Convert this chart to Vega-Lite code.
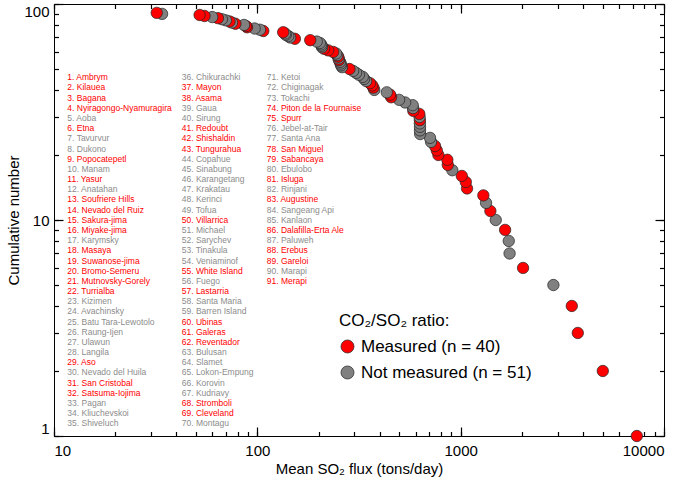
{
  "$schema": "https://vega.github.io/schema/vega-lite/v6.json",
  "width": 610,
  "height": 432,
  "autosize": {"type": "none"},
  "padding": {"left": 54, "top": 4, "right": 21, "bottom": 42},
  "config": {
    "font": "Liberation Sans",
    "view": {"stroke": "#000", "strokeWidth": 1},
    "axis": {
      "domain": false,
      "grid": false,
      "labelFont": "Liberation Sans",
      "labelFontSize": 15,
      "labelColor": "#000",
      "titleFont": "Liberation Sans",
      "titleFontSize": 15,
      "titleFontWeight": "normal",
      "titleColor": "#000",
      "tickColor": "#000",
      "tickWidth": 1.2,
      "labelOverlap": false
    }
  },
  "datasets": {
    "volcanoes": [
      {"rank": 1, "name": "Ambrym", "flux": 7350, "co2": "Measured"},
      {"rank": 2, "name": "Kilauea", "flux": 5000, "co2": "Measured"},
      {"rank": 3, "name": "Bagana", "flux": 3767, "co2": "Measured"},
      {"rank": 4, "name": "Nyiragongo-Nyamuragira", "flux": 3520, "co2": "Measured"},
      {"rank": 5, "name": "Aoba", "flux": 2858, "co2": "Not measured"},
      {"rank": 6, "name": "Etna", "flux": 2027, "co2": "Measured"},
      {"rank": 7, "name": "Tavurvur", "flux": 1740, "co2": "Not measured"},
      {"rank": 8, "name": "Dukono", "flux": 1724, "co2": "Not measured"},
      {"rank": 9, "name": "Popocatepetl", "flux": 1654, "co2": "Measured"},
      {"rank": 10, "name": "Manam", "flux": 1488, "co2": "Not measured"},
      {"rank": 11, "name": "Yasur", "flux": 1400, "co2": "Measured"},
      {"rank": 12, "name": "Anatahan", "flux": 1333, "co2": "Not measured"},
      {"rank": 13, "name": "Soufriere Hills", "flux": 1293, "co2": "Measured"},
      {"rank": 14, "name": "Nevado del Ruiz", "flux": 1075, "co2": "Measured"},
      {"rank": 15, "name": "Sakura-jima", "flux": 1060, "co2": "Measured"},
      {"rank": 16, "name": "Miyake-jima", "flux": 1013, "co2": "Measured"},
      {"rank": 17, "name": "Karymsky", "flux": 910, "co2": "Not measured"},
      {"rank": 18, "name": "Masaya", "flux": 864, "co2": "Measured"},
      {"rank": 19, "name": "Suwanose-jima", "flux": 860, "co2": "Measured"},
      {"rank": 20, "name": "Bromo-Semeru", "flux": 777, "co2": "Measured"},
      {"rank": 21, "name": "Mutnovsky-Gorely", "flux": 763, "co2": "Measured"},
      {"rank": 22, "name": "Turrialba", "flux": 748, "co2": "Measured"},
      {"rank": 23, "name": "Kizimen", "flux": 715, "co2": "Not measured"},
      {"rank": 24, "name": "Avachinsky", "flux": 707, "co2": "Not measured"},
      {"rank": 25, "name": "Batu Tara-Lewotolo", "flux": 632, "co2": "Not measured"},
      {"rank": 26, "name": "Raung-Ijen", "flux": 631, "co2": "Not measured"},
      {"rank": 27, "name": "Ulawun", "flux": 631, "co2": "Not measured"},
      {"rank": 28, "name": "Langila", "flux": 630, "co2": "Not measured"},
      {"rank": 29, "name": "Aso", "flux": 630, "co2": "Measured"},
      {"rank": 30, "name": "Nevado del Huila", "flux": 628, "co2": "Not measured"},
      {"rank": 31, "name": "San Cristobal", "flux": 626, "co2": "Measured"},
      {"rank": 32, "name": "Satsuma-Iojima", "flux": 585, "co2": "Measured"},
      {"rank": 33, "name": "Pagan", "flux": 583, "co2": "Not measured"},
      {"rank": 34, "name": "Kliuchevskoi", "flux": 581, "co2": "Not measured"},
      {"rank": 35, "name": "Shiveluch", "flux": 533, "co2": "Not measured"},
      {"rank": 36, "name": "Chikurachki", "flux": 498, "co2": "Not measured"},
      {"rank": 37, "name": "Mayon", "flux": 455, "co2": "Measured"},
      {"rank": 38, "name": "Asama", "flux": 450, "co2": "Measured"},
      {"rank": 39, "name": "Gaua", "flux": 433, "co2": "Not measured"},
      {"rank": 40, "name": "Sirung", "flux": 376, "co2": "Not measured"},
      {"rank": 41, "name": "Redoubt", "flux": 372, "co2": "Measured"},
      {"rank": 42, "name": "Shishaldin", "flux": 367, "co2": "Measured"},
      {"rank": 43, "name": "Tungurahua", "flux": 358, "co2": "Measured"},
      {"rank": 44, "name": "Copahue", "flux": 343, "co2": "Not measured"},
      {"rank": 45, "name": "Sinabung", "flux": 335, "co2": "Not measured"},
      {"rank": 46, "name": "Karangetang", "flux": 330, "co2": "Not measured"},
      {"rank": 47, "name": "Krakatau", "flux": 316, "co2": "Not measured"},
      {"rank": 48, "name": "Kerinci", "flux": 306, "co2": "Not measured"},
      {"rank": 49, "name": "Tofua", "flux": 296, "co2": "Not measured"},
      {"rank": 50, "name": "Villarrica", "flux": 284, "co2": "Measured"},
      {"rank": 51, "name": "Michael", "flux": 261, "co2": "Not measured"},
      {"rank": 52, "name": "Sarychev", "flux": 258, "co2": "Not measured"},
      {"rank": 53, "name": "Tinakula", "flux": 257, "co2": "Not measured"},
      {"rank": 54, "name": "Veniaminof", "flux": 255, "co2": "Not measured"},
      {"rank": 55, "name": "White Island", "flux": 252, "co2": "Measured"},
      {"rank": 56, "name": "Fuego", "flux": 251, "co2": "Not measured"},
      {"rank": 57, "name": "Lastarria", "flux": 250, "co2": "Measured"},
      {"rank": 58, "name": "Santa Maria", "flux": 247, "co2": "Not measured"},
      {"rank": 59, "name": "Barren Island", "flux": 244, "co2": "Not measured"},
      {"rank": 60, "name": "Ubinas", "flux": 236, "co2": "Measured"},
      {"rank": 61, "name": "Galeras", "flux": 223, "co2": "Measured"},
      {"rank": 62, "name": "Reventador", "flux": 213, "co2": "Measured"},
      {"rank": 63, "name": "Bulusan", "flux": 208, "co2": "Not measured"},
      {"rank": 64, "name": "Slamet", "flux": 207, "co2": "Not measured"},
      {"rank": 65, "name": "Lokon-Empung", "flux": 206, "co2": "Not measured"},
      {"rank": 66, "name": "Korovin", "flux": 203, "co2": "Not measured"},
      {"rank": 67, "name": "Kudriavy", "flux": 196, "co2": "Not measured"},
      {"rank": 68, "name": "Stromboli", "flux": 182, "co2": "Measured"},
      {"rank": 69, "name": "Cleveland", "flux": 153, "co2": "Measured"},
      {"rank": 70, "name": "Montagu", "flux": 145, "co2": "Not measured"},
      {"rank": 71, "name": "Ketoi", "flux": 142, "co2": "Not measured"},
      {"rank": 72, "name": "Chiginagak", "flux": 138, "co2": "Not measured"},
      {"rank": 73, "name": "Tokachi", "flux": 137, "co2": "Not measured"},
      {"rank": 74, "name": "Piton de la Fournaise", "flux": 134, "co2": "Measured"},
      {"rank": 75, "name": "Spurr", "flux": 107, "co2": "Measured"},
      {"rank": 76, "name": "Jebel-at-Tair", "flux": 103, "co2": "Not measured"},
      {"rank": 77, "name": "Santa Ana", "flux": 97, "co2": "Not measured"},
      {"rank": 78, "name": "San Miguel", "flux": 89, "co2": "Measured"},
      {"rank": 79, "name": "Sabancaya", "flux": 88, "co2": "Measured"},
      {"rank": 80, "name": "Ebulobo", "flux": 86, "co2": "Not measured"},
      {"rank": 81, "name": "Isluga", "flux": 78, "co2": "Measured"},
      {"rank": 82, "name": "Rinjani", "flux": 75, "co2": "Not measured"},
      {"rank": 83, "name": "Augustine", "flux": 73, "co2": "Measured"},
      {"rank": 84, "name": "Sangeang Api", "flux": 70, "co2": "Not measured"},
      {"rank": 85, "name": "Kanlaon", "flux": 67, "co2": "Not measured"},
      {"rank": 86, "name": "Dalafilla-Erta Ale", "flux": 64, "co2": "Measured"},
      {"rank": 87, "name": "Paluweh", "flux": 60, "co2": "Not measured"},
      {"rank": 88, "name": "Erebus", "flux": 55, "co2": "Measured"},
      {"rank": 89, "name": "Gareloi", "flux": 52, "co2": "Measured"},
      {"rank": 90, "name": "Marapi", "flux": 34, "co2": "Not measured"},
      {"rank": 91, "name": "Merapi", "flux": 32, "co2": "Measured"}
    ]
  },
  "data": {"name": "volcanoes"},
  "layer": [
    {
      "transform": [
        {"calculate": "floor((datum.rank - 1) / 35)", "as": "col"},
        {"calculate": "(datum.rank - 1) % 35", "as": "line"},
        {"calculate": "datum.rank + '. ' + datum.name", "as": "label"},
        {"calculate": "[11.63, 42.47, 111.2][datum.col]", "as": "colx"}
      ],
      "mark": {"type": "text", "align": "left", "baseline": "middle", "font": "Liberation Sans", "fontSize": 8.5},
      "encoding": {
        "x": {"field": "colx", "type": "quantitative", "scale": {"type": "log", "domain": [10, 10000], "nice": false}, "axis": null},
        "y": {"field": "line", "type": "quantitative", "scale": {"domain": [-7.2, 35.24], "reverse": true, "nice": false, "zero": false}, "axis": null},
        "text": {"field": "label"},
        "color": {"condition": {"test": "datum.co2 == 'Measured'", "value": "#ff0000"}, "value": "#8c8c8c"}
      }
    },
    {
      "mark": {"type": "circle", "size": 130, "opacity": 1, "stroke": "#222", "strokeWidth": 0.7},
      "encoding": {
        "x": {"field": "flux", "type": "quantitative", "scale": {"type": "log", "domain": [10, 10000], "nice": false},
              "axis": {"orient": "bottom", "values": [10, 100, 1000, 10000], "format": "d", "tickSize": -9, "labelPadding": 16, "title": "Mean SO₂ flux (tons/day)", "titlePadding": 3}},
        "y": {"field": "rank", "type": "quantitative", "scale": {"type": "log", "domain": [1, 100], "nice": false},
              "axis": {"orient": "left", "values": [1, 10, 100], "format": "d", "tickSize": -9, "labelPadding": 14, "labelFlush": true, "title": "Cumulative number", "titlePadding": 2}},
        "color": {"field": "co2", "type": "nominal",
                  "scale": {"domain": ["Measured", "Not measured"], "range": ["#ff0000", "#808080"]},
                  "legend": {"title": "CO₂/SO₂ ratio:", "orient": "none", "legendX": 285, "legendY": 309, "padding": 0,
                             "titleFontSize": 17, "titleFontWeight": "normal", "titleColor": "#000", "titleFont": "Liberation Sans", "titlePadding": 8, "titleLimit": 400,
                             "labelFontSize": 17, "labelColor": "#000", "labelFont": "Liberation Sans", "labelOffset": 5, "rowPadding": 8, "labelLimit": 400,
                             "symbolType": "circle", "symbolSize": 170, "symbolStrokeColor": "#222", "symbolStrokeWidth": 0.7, "symbolOpacity": 1,
                             "labelExpr": "datum.label == 'Measured' ? 'Measured (n = 40)' : 'Not measured (n = 51)'"}}
      }
    },
    {
      "mark": {"type": "point", "opacity": 0},
      "encoding": {
        "x": {"field": "flux", "type": "quantitative", "scale": {"type": "log", "domain": [10, 10000], "nice": false},
              "axis": {"orient": "bottom", "values": [10, 20, 30, 40, 50, 60, 70, 80, 90, 100, 200, 300, 400, 500, 600, 700, 800, 900, 1000, 2000, 3000, 4000, 5000, 6000, 7000, 8000, 9000, 10000], "tickSize": -4.5, "labels": false, "title": null}},
        "y": {"field": "rank", "type": "quantitative", "scale": {"type": "log", "domain": [1, 100], "nice": false},
              "axis": {"orient": "left", "values": [1, 2, 3, 4, 5, 6, 7, 8, 9, 10, 20, 30, 40, 50, 60, 70, 80, 90, 100], "tickSize": -4.5, "labels": false, "title": null}}
      }
    },
    {
      "mark": {"type": "point", "opacity": 0},
      "encoding": {
        "x": {"field": "flux", "type": "quantitative", "scale": {"type": "log", "domain": [10, 10000], "nice": false},
              "axis": {"orient": "top", "values": [10, 100, 1000, 10000], "tickSize": -9, "labels": false, "title": null}},
        "y": {"field": "rank", "type": "quantitative", "scale": {"type": "log", "domain": [1, 100], "nice": false},
              "axis": {"orient": "right", "values": [1, 10, 100], "tickSize": -9, "labels": false, "title": null}}
      }
    },
    {
      "mark": {"type": "point", "opacity": 0},
      "encoding": {
        "x": {"field": "flux", "type": "quantitative", "scale": {"type": "log", "domain": [10, 10000], "nice": false},
              "axis": {"orient": "top", "values": [10, 20, 30, 40, 50, 60, 70, 80, 90, 100, 200, 300, 400, 500, 600, 700, 800, 900, 1000, 2000, 3000, 4000, 5000, 6000, 7000, 8000, 9000, 10000], "tickSize": -4.5, "labels": false, "title": null}},
        "y": {"field": "rank", "type": "quantitative", "scale": {"type": "log", "domain": [1, 100], "nice": false},
              "axis": {"orient": "right", "values": [1, 2, 3, 4, 5, 6, 7, 8, 9, 10, 20, 30, 40, 50, 60, 70, 80, 90, 100], "tickSize": -4.5, "labels": false, "title": null}}
      }
    }
  ],
  "resolve": {"scale": {"y": "independent", "color": "independent"}, "axis": {"x": "independent", "y": "independent"}}
}
